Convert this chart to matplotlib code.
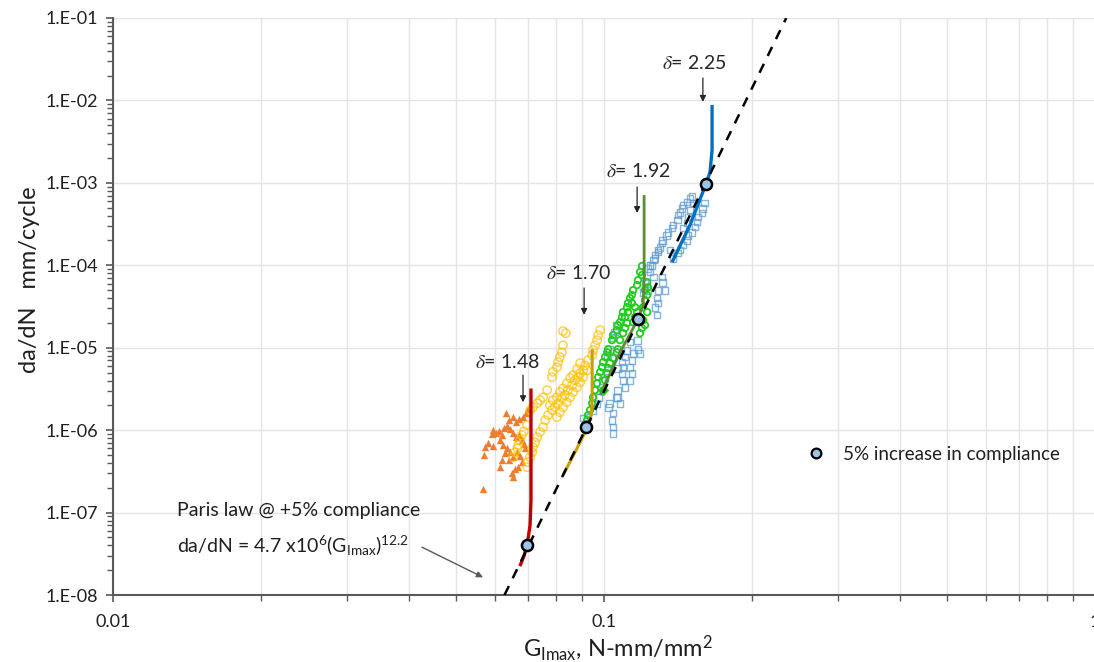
import numpy as np
import matplotlib
matplotlib.use("Agg")
import matplotlib.pyplot as plt
from matplotlib.ticker import LogLocator, FuncFormatter, NullFormatter
from matplotlib.lines import Line2D

plt.rcParams['font.family'] = ['Lato', 'DejaVu Sans']
plt.rcParams['mathtext.fontset'] = 'custom'
plt.rcParams['mathtext.rm'] = 'Lato'
plt.rcParams['mathtext.it'] = 'Lato:italic'
plt.rcParams['mathtext.bf'] = 'Lato:bold'

# ---------------- data ----------------
# delta = 1.48 (orange triangles)
orange_G = [0.0632, 0.0640, 0.0653, 0.0662, 0.0671, 0.0684, 0.0694, 0.0700,
            0.0594, 0.0591, 0.0603, 0.0611, 0.0620, 0.0626, 0.0635, 0.0643,
            0.0653, 0.0662, 0.0671, 0.0681, 0.0687, 0.0690, 0.0572, 0.0570,
            0.0580, 0.0594, 0.0614, 0.0623, 0.0635, 0.0629, 0.0643, 0.0653,
            0.0640, 0.0665, 0.0674, 0.0681, 0.0668, 0.0659, 0.0650, 0.0653,
            0.0620, 0.0614, 0.0567]
orange_dadn = [1.61e-6, 1.32e-6, 1.44e-6, 1.25e-6, 1.36e-6, 1.44e-6, 1.61e-6, 1.80e-6,
               1.0e-6, 8.9e-7, 9.2e-7, 9.7e-7, 8.7e-7, 1.06e-6, 1.12e-6, 1.03e-6,
               9.2e-7, 8.2e-7, 8.7e-7, 7.6e-7, 6.8e-7, 6.1e-7, 6.2e-7, 5.0e-7,
               7.0e-7, 6.4e-7, 7.6e-7, 6.6e-7, 6.1e-7, 5.3e-7, 5.4e-7, 4.7e-7,
               4.3e-7, 5.4e-7, 4.8e-7, 4.1e-7, 3.55e-7, 3.4e-7, 3.0e-7, 2.7e-7,
               4.3e-7, 3.55e-7, 1.92e-7]

# delta = 1.70 (yellow circles)
yellow_G = [0.0825, 0.0836, 0.0825, 0.0821, 0.0813, 0.0806, 0.0802, 0.0787, 0.0783,
            0.0766, 0.0752, 0.0741, 0.0731, 0.0717, 0.0707,
            0.0982, 0.0973, 0.0968, 0.0959, 0.0950, 0.0946, 0.0928, 0.0915, 0.0907,
            0.0894, 0.0886, 0.0873, 0.0861, 0.0844, 0.0832, 0.0821, 0.0806, 0.0794,
            0.0783, 0.0769, 0.0759,
            0.0894, 0.0881, 0.0865, 0.0853, 0.0840, 0.0825, 0.0813, 0.0802, 0.0787, 0.0776,
            0.0924, 0.0907, 0.0894, 0.0881, 0.0865, 0.0853, 0.0840, 0.0825, 0.0813, 0.0802,
            0.0697, 0.0700, 0.0707, 0.0714, 0.0717, 0.0724, 0.0731, 0.0741, 0.0752,
            0.0669, 0.0674, 0.0680, 0.0687, 0.0697, 0.0659, 0.0666, 0.0653]
yellow_dadn = [1.59e-5, 1.50e-5, 1.07e-5, 8.8e-6, 7.7e-6, 6.7e-6, 5.8e-6, 5.1e-6, 4.4e-6,
               3.06e-6, 2.5e-6, 2.31e-6, 2.12e-6, 1.9e-6, 1.75e-6,
               1.635e-5, 1.42e-5, 1.236e-5, 1.07e-5, 9.35e-6, 8.1e-6, 7.07e-6, 6.1e-6, 5.35e-6,
               4.9e-6, 4.4e-6, 4.04e-6, 3.5e-6, 3.06e-6, 2.66e-6, 2.45e-6, 2.12e-6, 1.90e-6,
               1.75e-6, 1.52e-6, 1.32e-6,
               6.5e-6, 5.5e-6, 4.65e-6, 4.3e-6, 3.7e-6, 3.2e-6, 2.9e-6, 2.5e-6, 2.31e-6, 2.0e-6,
               5.35e-6, 4.4e-6, 3.8e-6, 3.3e-6, 2.9e-6, 2.5e-6, 2.18e-6, 1.90e-6, 1.65e-6, 1.44e-6,
               3.55e-7, 4.1e-7, 4.7e-7, 5.4e-7, 6.2e-7, 7.1e-7, 8.2e-7, 9.5e-7, 1.09e-6,
               6.6e-7, 7.56e-7, 8.7e-7, 9.7e-7, 1.15e-6, 5.4e-7, 6.0e-7, 4.7e-7]

# delta = 1.92 (green circles)
green_G = [0.1195, 0.1184, 0.1195, 0.1173, 0.1168, 0.1146, 0.1140, 0.1130, 0.1119, 0.1114,
           0.1093, 0.1088, 0.1078, 0.1067, 0.1062, 0.1043, 0.1038, 0.1020, 0.1015, 0.1005,
           0.0996, 0.0991, 0.0982, 0.0973, 0.0968, 0.0959, 0.0950, 0.0946, 0.0937, 0.0928,
           0.0924, 0.0915,
           0.1224, 0.1229, 0.1212, 0.1224, 0.1212, 0.1201, 0.1224, 0.1201, 0.1212, 0.1195,
           0.1184, 0.1168, 0.1157, 0.1146, 0.1140, 0.1157, 0.1114, 0.1104, 0.1093, 0.1078,
           0.1067, 0.1062, 0.1043, 0.1028, 0.1020, 0.1015, 0.1005, 0.1104, 0.1119]
green_dadn = [9.8e-5, 8.3e-5, 7.6e-5, 6.61e-5, 5.75e-5, 5.0e-5, 4.35e-5, 4.0e-5, 3.48e-5, 3.1e-5,
              2.7e-5, 2.35e-5, 2.04e-5, 1.88e-5, 1.635e-5, 1.42e-5, 1.236e-5, 9.6e-6, 8.8e-6, 7.7e-6,
              6.7e-6, 5.8e-6, 5.06e-6, 4.4e-6, 3.7e-6, 3.06e-6, 2.5e-6, 2.12e-6, 1.75e-6, 1.52e-6,
              1.32e-6, 1.15e-6,
              6.25e-5, 5.4e-5, 5.0e-5, 4.35e-5, 3.78e-5, 3.1e-5, 2.7e-5, 2.16e-5, 1.88e-5, 1.73e-5,
              1.50e-5, 2.7e-5, 2.35e-5, 2.04e-5, 3.48e-5, 3.1e-5, 1.99e-5, 1.73e-5, 1.50e-5, 1.236e-5,
              9.6e-6, 8.8e-6, 7.5e-6, 6.5e-6, 5.65e-6, 4.9e-6, 4.04e-6, 2.35e-5, 2.7e-5]
green_extra_G = [0.0996]
green_extra_dadn = [3.1e-6]

# delta = 2.25 (blue squares)
blue_G = [0.1511, 0.1497, 0.1476, 0.1448, 0.1441, 0.1428, 0.1415, 0.1409, 0.1382, 0.1376,
          0.1350, 0.1343, 0.1318, 0.1312, 0.1300, 0.1288, 0.1270, 0.1259, 0.1241,
          0.1605, 0.1590, 0.1583, 0.1554, 0.1547, 0.1532, 0.1511, 0.1483, 0.1476, 0.1448,
          0.1428, 0.1409, 0.1382,
          0.1518, 0.1497, 0.1483, 0.1476, 0.1448,
          0.1288, 0.1270, 0.1253, 0.1241, 0.1229, 0.1259, 0.1312, 0.1318, 0.1331, 0.1288,
          0.1282, 0.1270, 0.1288, 0.1282, 0.1212, 0.1224, 0.1201, 0.1363,
          0.1168, 0.1173, 0.1184, 0.1146, 0.1140, 0.1130, 0.1140, 0.1130, 0.1093, 0.1088,
          0.1093, 0.1104, 0.1067, 0.1062, 0.1078, 0.1028, 0.1020, 0.1043, 0.1038, 0.1043,
          0.1043, 0.1067,
          0.1062, 0.1052, 0.1043, 0.1028, 0.1015, 0.1130, 0.1114, 0.1104, 0.1088, 0.1067,
          0.1015, 0.0991, 0.0982, 0.0973, 0.0968, 0.0950, 0.0924, 0.0907]
blue_dadn = [6.9e-4, 6.5e-4, 5.85e-4, 5.4e-4, 4.9e-4, 4.4e-4, 4.07e-4, 3.54e-4, 3.08e-4, 2.83e-4,
             2.52e-4, 2.32e-4, 2.02e-4, 1.86e-4, 1.66e-4, 1.53e-4, 1.33e-4, 1.156e-4, 1.0e-4,
             5.7e-4, 4.9e-4, 4.3e-4, 3.85e-4, 3.35e-4, 2.91e-4, 2.52e-4, 2.32e-4, 2.02e-4, 1.76e-4,
             1.53e-4, 1.41e-4, 1.22e-4,
             5.7e-4, 4.68e-4, 3.85e-4, 3.26e-4, 2.83e-4,
             1.45e-4, 1.22e-4, 1.0e-4, 8.3e-5, 9.2e-5, 7.2e-5, 7.2e-5, 6.25e-5, 5.0e-5, 5.0e-5,
             4.0e-5, 3.1e-5, 3.48e-5, 2.5e-5, 6.1e-5, 5.0e-5, 4.7e-5, 1.53e-4,
             1.236e-5, 9.6e-6, 8.6e-6, 8.6e-6, 7.07e-6, 5.8e-6, 4.9e-6, 4.04e-6, 5.8e-6, 4.9e-6,
             4.04e-6, 3.3e-6, 3.06e-6, 2.5e-6, 2.12e-6, 2.12e-6, 1.90e-6, 1.61e-6, 1.32e-6, 1.09e-6,
             9.2e-7, 2.5e-6,
             1.88e-5, 1.55e-5, 1.34e-5, 9.6e-6, 8.1e-6, 1.17e-5, 9.35e-6, 7.7e-6, 6.7e-6, 5.65e-6,
             5.35e-6, 4.04e-6, 3.06e-6, 2.5e-6, 2.12e-6, 1.75e-6, 1.44e-6, 1.40e-6]

# final-stage curves of each test
red_G = [0.0674, 0.0687, 0.0697, 0.0707, 0.0710, 0.0710]
red_dadn = [2.24e-8, 2.96e-8, 4.0e-8, 7.0e-8, 1.41e-7, 3.2e-6]
gold_G = [0.0825, 0.0873, 0.0924, 0.0941, 0.0946, 0.0946]
gold_dadn = [2.84e-7, 5.4e-7, 1.06e-6, 1.52e-6, 2.31e-6, 9.6e-6]
olive_G = [0.0982, 0.1078, 0.1173, 0.1201, 0.1207, 0.1207]
olive_dadn = [2.66e-6, 8.8e-6, 2.22e-5, 3.3e-5, 6.61e-5, 7.1e-4]
dblue_G = [0.1376, 0.1497, 0.1613, 0.1644, 0.1660, 0.1660]
dblue_dadn = [1.09e-4, 3.08e-4, 9.67e-4, 1.35e-3, 2.5e-3, 8.8e-3]

# 5% increase in compliance points
comp_G = [0.0697, 0.0919, 0.1173, 0.1613]
comp_dadn = [4.0e-8, 1.09e-6, 2.22e-5, 9.67e-4]

# Paris law fit
paris_C = 4.7e6
paris_m = 12.2
paris_G_range = [0.0627, 0.235]

delta_labels = ["1.48", "1.70", "1.92", "2.25"]

# ---------------- figure ----------------
W, H = 1094, 662
fig = plt.figure(figsize=(W / 100, H / 100), dpi=100)
ax = fig.add_axes([113 / W, 67 / H, 982 / W, 577 / H])
ax.set_xscale('log')
ax.set_yscale('log')
ax.set_xlim(0.01, 1)
ax.set_ylim(1e-8, 1e-1)

gridc = '#E4E4E4'
ax.grid(which='major', axis='both', color=gridc, lw=1.0, zorder=0)
ax.grid(which='minor', axis='x', color=gridc, lw=1.0, zorder=0)
ax.set_axisbelow(True)

ax.xaxis.set_major_locator(LogLocator(base=10, numticks=10))
ax.xaxis.set_minor_locator(LogLocator(base=10, subs=np.arange(2, 10), numticks=50))
ax.yaxis.set_major_locator(LogLocator(base=10, numticks=20))
ax.yaxis.set_minor_locator(LogLocator(base=10, subs=np.arange(2, 10), numticks=100))
ax.xaxis.set_major_formatter(FuncFormatter(lambda v, p: f"{v:g}"))
ax.yaxis.set_major_formatter(FuncFormatter(lambda v, p: f"1.E-{int(round(-np.log10(v))):02d}"))
ax.xaxis.set_minor_formatter(NullFormatter())
ax.yaxis.set_minor_formatter(NullFormatter())

spc = '#595959'
for s in ['top', 'right']:
    ax.spines[s].set_visible(False)
for s in ['left', 'bottom']:
    ax.spines[s].set_color(spc)
    ax.spines[s].set_linewidth(1.5)
ax.tick_params(which='major', direction='out', length=5, width=1.2, color=spc,
               labelsize=13, labelcolor='#1f1f1f', pad=6)
ax.tick_params(which='minor', direction='out', length=4, width=1.0, color=spc)
ax.tick_params(axis='x', which='major', pad=9)

# scatter
ax.scatter(orange_G, orange_dadn, marker='^', s=28, color='#ED7D31', lw=0, zorder=3)
ax.scatter(yellow_G, yellow_dadn, marker='o', s=36, facecolors='none',
           edgecolors='#FFC000', linewidths=1.1, alpha=0.7, zorder=3)
ax.scatter(blue_G, blue_dadn, marker='s', s=24, facecolors='none',
           edgecolors='#5B9BD5', linewidths=1.0, alpha=0.75, zorder=3)
ax.scatter(green_G, green_dadn, marker='o', s=22, facecolors='none',
           edgecolors='#22CC22', linewidths=1.3, zorder=3)
ax.scatter(green_extra_G, green_extra_dadn, marker='D', s=24, color='#22CC22', zorder=3)

# final-stage lines
ax.plot(red_G, red_dadn, color='#C00000', lw=2.4, zorder=4, solid_capstyle='butt')
ax.plot(gold_G, gold_dadn, color='#C9A000', lw=2.2, zorder=4, solid_capstyle='butt')
ax.plot(olive_G, olive_dadn, color='#5B8E32', lw=2.0, zorder=4, solid_capstyle='butt')
ax.plot(dblue_G, dblue_dadn, color='#0070C0', lw=2.4, zorder=4, solid_capstyle='butt')

# Paris law
gp = np.logspace(np.log10(paris_G_range[0]), np.log10(paris_G_range[1]), 100)
ax.plot(gp, paris_C * gp ** paris_m, color='black', lw=1.8, ls=(0, (4, 3.5)), zorder=5)

# compliance markers
ax.plot(comp_G, comp_dadn, ls='none', marker='o', ms=8, mfc='#9DC3E6', mec='black',
        mew=1.8, zorder=6)

# delta annotations
d_text = [(0.0637, 6.7e-6), (0.0886, 8.0e-5), (0.1173, 1.39e-3), (0.1525, 2.84e-2)]
d_arrow = [(0.0684, 4.65e-6, 2.18e-6), (0.0911, 5.3e-5, 2.5e-5),
           (0.1168, 8.9e-4, 4.3e-4), (0.1590, 1.87e-2, 9.6e-3)]
for lab, (tx, ty), (axx, y0, y1) in zip(delta_labels, d_text, d_arrow):
    ax.text(tx, ty, r"$\delta$= " + lab, ha='center', va='center', fontsize=14,
            color='#262626', math_fontfamily='stix', zorder=7)
    ax.annotate('', xy=(axx, y1), xytext=(axx, y0),
                arrowprops=dict(arrowstyle='-|>', color='#262626', lw=0.9,
                                mutation_scale=9, shrinkA=0, shrinkB=0), zorder=7)

# Paris text
ax.text(0.0652, 0.1456, "Paris law @ +5% compliance", transform=ax.transAxes,
        ha='left', va='center', fontsize=14, color='#1f1f1f')
ax.text(0.0652, 0.0849, r"da/dN = 4.7 x10$^{6}$(G$_{\mathrm{Imax}}$)$^{12.2}$",
        transform=ax.transAxes, ha='left', va='center', fontsize=14, color='#1f1f1f')
ax.annotate('', xy=(0.0567, 1.64e-8), xytext=(0.0426, 3.8e-8),
            arrowprops=dict(arrowstyle='-|>', color='#595959', lw=1.0,
                            mutation_scale=9, shrinkA=0, shrinkB=0), zorder=7)

# legend
h = Line2D([], [], ls='none', marker='o', ms=7, mfc='#9DC3E6', mec='black', mew=1.6)
ax.legend([h], ["5% increase in compliance"], loc='center left',
          bbox_to_anchor=(0.68, 0.244), frameon=False, fontsize=13.5,
          handletextpad=0.4, labelcolor='#1f1f1f')

# axis titles
fig.text(30 / W, 1 - 280 / H, "da/dN   mm/cycle", rotation=90, ha='center', va='center',
         fontsize=17, color='#1f1f1f')
fig.text(618 / W, 1 - 648 / H, r"G$_{\mathrm{Imax}}$, N-mm/mm$^{2}$", ha='center',
         va='center', fontsize=17, color='#1f1f1f')

fig.savefig('out.png', dpi=100)
